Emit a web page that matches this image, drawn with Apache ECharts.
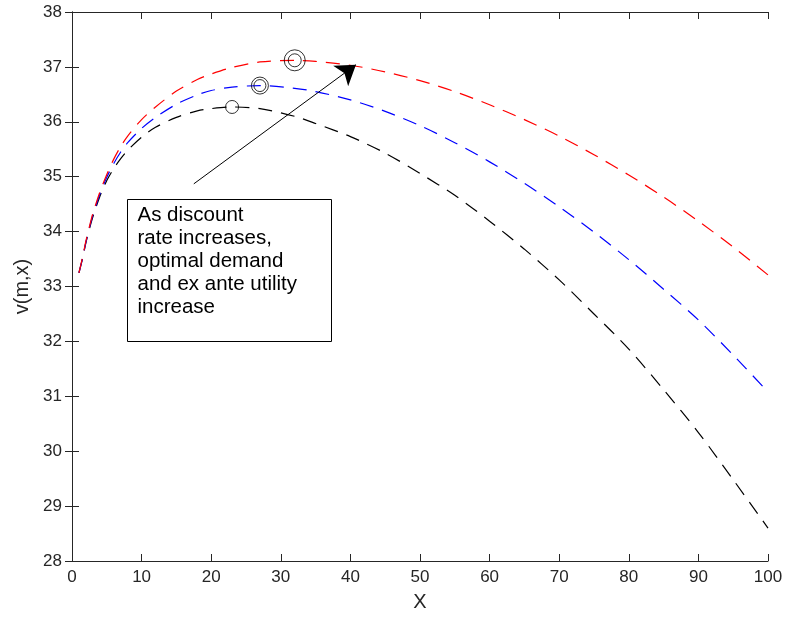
<!DOCTYPE html>
<html>
<head>
<meta charset="utf-8">
<script src="https://cdn.jsdelivr.net/npm/echarts@6/dist/echarts.min.js"></script>
<style>
  html, body { margin: 0; padding: 0; background: #fff; }
  #chart { width: 787px; height: 626px; }
</style>
</head>
<body>
<div id="chart"></div>
<script>
// Demand level X on the horizontal axis
const xs = [1, 1.5, 2, 2.5, 3, 4, 5, 6, 7, 8, 10, 12, 15, 18, 20, 23, 27, 32, 35, 40, 45, 50, 55, 60, 65, 70, 75, 80, 85, 90, 95, 100];

// Ex ante utility v(m,x) for three discount rates (low, mid, high)
const vLow  = [33.25, 33.50, 33.80, 34.05, 34.27, 34.64, 34.93, 35.15, 35.33, 35.48, 35.72, 35.90, 36.08, 36.20, 36.24, 36.27, 36.24, 36.10, 35.97, 35.73, 35.43, 35.06, 34.66, 34.19, 33.68, 33.12, 32.50, 31.86, 31.12, 30.34, 29.48, 28.60];
const vMid  = [33.25, 33.51, 33.81, 34.07, 34.30, 34.68, 34.99, 35.24, 35.45, 35.62, 35.88, 36.08, 36.32, 36.49, 36.57, 36.63, 36.66, 36.61, 36.55, 36.40, 36.19, 35.93, 35.62, 35.27, 34.88, 34.45, 33.99, 33.49, 32.95, 32.39, 31.75, 31.08];
const vHigh = [33.25, 33.52, 33.83, 34.09, 34.33, 34.72, 35.04, 35.32, 35.55, 35.74, 36.04, 36.27, 36.56, 36.77, 36.87, 36.99, 37.09, 37.12, 37.10, 37.03, 36.91, 36.75, 36.55, 36.31, 36.04, 35.74, 35.40, 35.03, 34.63, 34.19, 33.72, 33.21];

// Optimal demand (maximum of each curve)
const optX = [23, 27, 32];
const optV = [36.27, 36.66, 37.12];

// Annotation arrow: tail and head
const arrowFrom = [17.5, 34.87];
const arrowTo = [40.8, 37.04];

const noteLines = ['As discount', 'rate increases,', 'optimal demand', 'and ex ante utility', 'increase'];

const FONT = '"Liberation Sans", Arial, Helvetica, sans-serif';
const AXIS_COLOR = '#262626';

const pairs = (ys) => xs.map((x, i) => [x, ys[i]]);

const curve = (ys, color) => ({
  type: 'line',
  data: pairs(ys),
  smooth: 0.3,
  showSymbol: false,
  symbol: 'none',
  silent: true,
  lineStyle: { color: color, width: 1.2, type: [14, 9] },
  z: 3
});

const ring = (i, size) => ({
  type: 'scatter',
  data: [[optX[i], optV[i]]],
  symbol: 'circle',
  symbolSize: size,
  silent: true,
  itemStyle: { color: 'rgba(0,0,0,0)', borderColor: '#000', borderWidth: 1 },
  z: 4
});

const axisCommon = {
  axisLine: { show: true, lineStyle: { color: AXIS_COLOR, width: 1 } },
  axisTick: { show: true, inside: true, length: 7, lineStyle: { color: AXIS_COLOR } },
  splitLine: { show: false }
};

const chart = echarts.init(document.getElementById('chart'), null, { renderer: 'canvas' });

chart.setOption({
  backgroundColor: '#fff',
  animation: false,
  grid: { left: 72, right: 19, top: 12, bottom: 65 },
  xAxis: [
    Object.assign({
      type: 'value', min: 0, max: 100, interval: 10, position: 'bottom',
      name: 'X', nameLocation: 'middle', nameGap: 31,
      nameTextStyle: { fontFamily: FONT, fontSize: 20, color: AXIS_COLOR },
      axisLabel: { fontFamily: FONT, fontSize: 17, color: AXIS_COLOR, margin: 8 }
    }, axisCommon),
    Object.assign({
      type: 'value', min: 0, max: 100, interval: 10, position: 'top',
      axisLabel: { show: false }
    }, axisCommon)
  ],
  yAxis: [
    Object.assign({
      type: 'value', min: 28, max: 38, interval: 1, position: 'left',
      name: 'v(m,x)', nameLocation: 'middle', nameGap: 40, nameRotate: 90,
      nameTextStyle: { fontFamily: FONT, fontSize: 20, color: AXIS_COLOR },
      axisLabel: { fontFamily: FONT, fontSize: 17, color: AXIS_COLOR, margin: 10 }
    }, axisCommon),
    Object.assign({
      type: 'value', min: 28, max: 38, interval: 1, position: 'right',
      axisLabel: { show: false }
    }, axisCommon)
  ],
  series: [
    curve(vLow, '#000000'),
    curve(vMid, '#0000ff'),
    curve(vHigh, '#ff0000'),
    ring(0, 13),
    ring(1, 17),
    ring(1, 12),
    ring(2, 21),
    ring(2, 13),
    {
      type: 'lines',
      coordinateSystem: 'cartesian2d',
      polyline: false,
      silent: true,
      symbol: ['none', 'arrow'],
      symbolSize: 19,
      lineStyle: { color: '#000', width: 1, opacity: 1 },
      data: [{ coords: [arrowFrom, arrowTo] }],
      z: 5
    }
  ],
  graphic: [
    {
      type: 'group',
      left: 127,
      top: 199,
      z: 10,
      children: [
        {
          type: 'rect',
          shape: { x: 0, y: 0, width: 204, height: 142 },
          style: { fill: '#fff', stroke: '#000', lineWidth: 1 }
        },
        {
          type: 'text',
          left: 10,
          top: 4,
          style: {
            text: noteLines.join('\n'),
            font: '20.5px ' + FONT,
            lineHeight: 23,
            fill: '#000'
          }
        }
      ]
    }
  ]
});
</script>
</body>
</html>
